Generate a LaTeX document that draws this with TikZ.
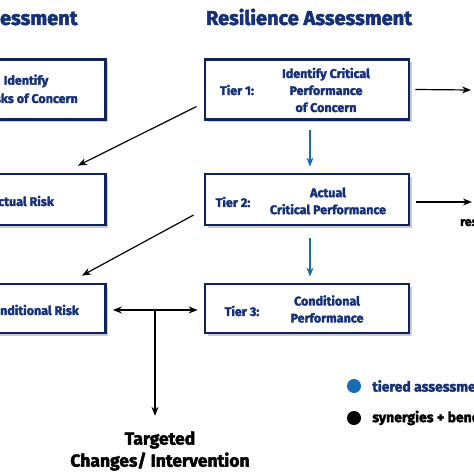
\documentclass[tikz,border=0pt]{standalone}
\usepackage{fontspec}
\setmainfont{Fira Sans}[BoldFeatures={FakeBold=2.4}]
\usetikzlibrary{arrows.meta,positioning,calc,shadows}
\definecolor{titleblue}{RGB}{22, 48, 120}
\definecolor{boxnavy}{RGB}{14, 34, 92}
\definecolor{tierblue}{RGB}{24, 108, 180}

\begin{document}
\begin{tikzpicture}[x=1pt, y=-1pt, >={Stealth[length=9pt,width=7pt]},
    tierbox/.style={draw=boxnavy, line width=2.8pt, fill=white, minimum width=204pt,
      drop shadow={shadow xshift=2.5pt, shadow yshift=-2.5pt, fill=black!40}},
    tiertext/.style={font=\fontsize{12.5}{17}\selectfont\bfseries, text=titleblue, align=center, inner sep=0pt},
    titletext/.style={font=\fontsize{20}{24}\selectfont\bfseries, text=titleblue},
    flowarrow/.style={->, line width=1.2pt, black},
    tierarrow/.style={->, line width=1.2pt, tierblue},
    legendtext/.style={font=\fontsize{14}{16}\selectfont\bfseries, anchor=west, inner sep=0pt}]
    \useasboundingbox (0,0) rectangle (474,474);
    \clip (0,0) rectangle (474,474);

    % Titles
    \node[titletext, anchor=east] (risktitle) at (81,17) {Risk Assessment};
    \node[titletext] (restitle) at (309,17) {Resilience Assessment};

    % Risk column (left)
    \node[tierbox, minimum height=60pt] (r1) at (3.5,89.5) {};
    \node[tierbox, minimum height=51pt] (r2) at (3.5,199.5) {};
    \node[tierbox, minimum height=49pt] (r3) at (3.5,308.5) {};
    \node[tiertext] (r1txt) at (26,81) {Identify};
    \node[tiertext, anchor=east] (r1txt2) at (78,98) {Risks of Concern};
    \node[tiertext, anchor=east] (r2txt) at (54,201) {Actual Risk};
    \node[tiertext, anchor=east] (r3txt) at (79,310) {Conditional Risk};

    % Resilience column (right)
    \node[tierbox, minimum height=60pt] (t1) at (307,89.5) {};
    \node[tierbox, minimum height=51pt] (t2) at (307,199.5) {};
    \node[tierbox, minimum height=49pt] (t3) at (307,308.5) {};
    \node[tiertext] (t1lab) at (237,90) {Tier 1:};
    \node[tiertext] (t1txt) at (326,90) {Identify Critical\\Performance\\of Concern};
    \node[tiertext] (t2lab) at (233,202) {Tier 2:};
    \node[tiertext] (t2txt) at (328,201) {Actual\\Critical Performance};
    \node[tiertext] (t3lab) at (242,311) {Tier 3:};
    \node[tiertext] (t3txt) at (327,309) {Conditional\\Performance};

    % Tier arrows
    \draw[tierarrow] ($(t1.south)+(3,9)$) -- ($(t2.north)+(3,-6)$);
    \draw[tierarrow] ($(t2.south)+(3,12)$) -- ($(t3.north)+(3,-6)$);

    % Cross links
    \draw[flowarrow] ($(t1.west)+(-7,17)$) -- ($(r2.north east)+(-29,-7)$);
    \draw[flowarrow] ($(t2.west)+(-10,15.5)$) -- ($(r3.north east)+(-25,-7)$);

    % Outputs to the right
    \coordinate (out1) at (471,90);
    \coordinate (out2) at (472,202);
    \draw[flowarrow] ($(t1.east)+(5,0)$) -- (out1);
    \draw[flowarrow] ($(t2.east)+(6,2.5)$) -- (out2);
    \node[legendtext, font=\fontsize{12.5}{14}\selectfont\bfseries] (restxt) at (460,221) {resilience};

    % Targeted changes
    \node[font=\fontsize{17.5}{22}\selectfont\bfseries, align=center] (target) at (160,451) {Targeted\\Changes/ Intervention};
    \coordinate (split) at (155,310);
    \draw[flowarrow, <->] ($(r3.east)+(6,1.5)$) -- ($(t3.west)+(-6,1.5)$);
    \draw[flowarrow] (split) -- ($(split |- target.north)+(0,-12)$);

    % Legend
    \node[circle, fill=tierblue, minimum size=14pt, inner sep=0pt] (ldot1) at (354,386) {};
    \node[circle, fill=black, minimum size=14pt, inner sep=0pt] (ldot2) at (354,418) {};
    \node[legendtext, text=titleblue, right=11pt of ldot1] (ltxt1) {tiered assessment};
    \node[legendtext, right=11pt of ldot2] (ltxt2) {synergies + benefits};
\end{tikzpicture}
\end{document}
